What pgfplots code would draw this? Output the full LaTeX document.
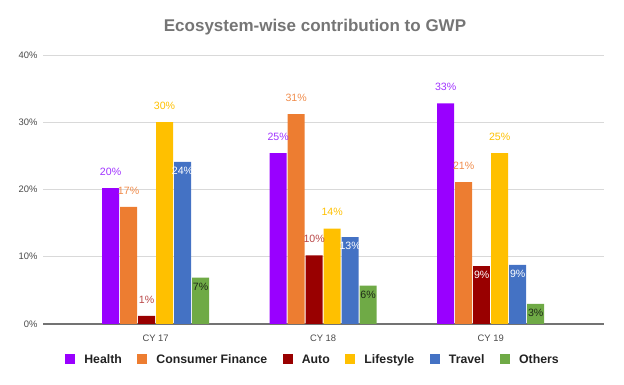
\documentclass[border=0pt]{standalone}
\usepackage{pgfplots}
\pgfplotsset{compat=1.18}
\usepackage{fontspec}
\setmainfont{Liberation Sans}
\definecolor{cHealth}{HTML}{9900FF}
\definecolor{cHealthL}{HTML}{A033FF}
\definecolor{cCF}{HTML}{ED7D31}
\definecolor{cCFL}{HTML}{F08C4B}
\definecolor{cAuto}{HTML}{990000}
\definecolor{cAutoL}{HTML}{B94747}
\definecolor{cLife}{HTML}{FFC000}
\definecolor{cTravel}{HTML}{4472C4}
\definecolor{cOthers}{HTML}{6FAA46}
\definecolor{cOthersL}{HTML}{1F2A18}
\definecolor{cTitle}{HTML}{757575}
\definecolor{cTick}{HTML}{4A4A4A}
\definecolor{cLegend}{HTML}{222222}
\tikzset{lblabove/.style={yshift=16.5pt}, lblin/.style={yshift=-9pt}}
\begin{document}
\begin{tikzpicture}
\useasboundingbox (0,0) rectangle (624pt,385pt);
\node[font=\bfseries\fontsize{17}{20}\selectfont, text=cTitle] at (315pt,358.3pt) {Ecosystem-wise contribution to GWP};
\begin{axis}[
  at={(43.3pt,61pt)}, anchor=south west,
  scale only axis, width=561pt, height=269pt,
  xmin=-0.67, xmax=2.678, ymin=0, ymax=40,
  ybar, bar width=0.1015,
  xtick={0,1,2}, xticklabels={CY 17,CY 18,CY 19},
  ytick={0,10,20,30,40}, yticklabels={0\%,10\%,20\%,30\%,40\%},
  axis line style={draw=none}, tick style={draw=none},
  ymajorgrids, grid style={draw=black!15, line width=0.8pt},
  extra y ticks={0}, extra y tick labels={},
  extra y tick style={grid style={draw=black!55, line width=1.3pt}},
  tick label style={font=\fontsize{9.4}{11}\selectfont, text=cTick},
  yticklabel style={inner sep=0pt, xshift=-5.6pt},
  xticklabel style={inner sep=0pt, anchor=center, yshift=-10.3pt},
  point meta=explicit symbolic,
  every node near coord/.append style={font=\fontsize{10.6}{12}\selectfont, anchor=center},
  legend columns=6,
  legend style={at={(0.479,-0.1313)}, anchor=center, draw=none, fill=none,
    font=\bfseries\fontsize{12.3}{14}\selectfont, text=cLegend,
    column sep=0pt, nodes={inner sep=0pt}, cells={anchor=base west},
    /tikz/every odd column/.append style={column sep=9pt},
    /tikz/every even column/.append style={column sep=15.6pt}},
  legend image code/.code={\fill[#1,draw=none] (0pt,-0.6pt) rectangle (10pt,9.4pt);},
]
\addplot[fill=cHealth, draw=none, bar shift=-0.2685, nodes near coords,
  every node near coord/.append style={text=cHealthL, lblabove}]
  coordinates {(0,20.2)[20\%] (1,25.4)[25\%] (2,32.8)[33\%]};
\addplot[fill=cCF, draw=none, bar shift=-0.1611, nodes near coords,
  every node near coord/.append style={text=cCFL, lblabove}]
  coordinates {(0,17.4)[17\%] (1,31.2)[31\%] (2,21.1)[21\%]};
\addplot[fill=cAuto, draw=none, bar shift=-0.0537, nodes near coords,
  every node near coord/.append style={text=cAutoL, lblabove}]
  coordinates {(0,1.2)[1\%] (1,10.2)[10\%]};
\addplot[fill=cLife, draw=none, bar shift=0.0537, nodes near coords,
  every node near coord/.append style={text=cLife, lblabove}]
  coordinates {(0,30.0)[30\%] (1,14.2)[14\%] (2,25.4)[25\%]};
\addplot[fill=cTravel, draw=none, bar shift=0.1611, nodes near coords,
  every node near coord/.append style={text=white, lblin}]
  coordinates {(0,24.1)[24\%] (1,12.9)[13\%] (2,8.8)[9\%]};
\addplot[fill=cOthers, draw=none, bar shift=0.2685, nodes near coords,
  every node near coord/.append style={text=cOthersL, lblin}]
  coordinates {(0,6.9)[7\%] (1,5.7)[6\%] (2,3.0)[3\%]};
\addplot[fill=cAuto, draw=none, bar shift=-0.0537, nodes near coords, forget plot,
  every node near coord/.append style={text=white, lblin}]
  coordinates {(2,8.6)[9\%]};
\legend{Health, Consumer Finance, Auto, Lifestyle, Travel, Others}
\end{axis}
\end{tikzpicture}
\end{document}
